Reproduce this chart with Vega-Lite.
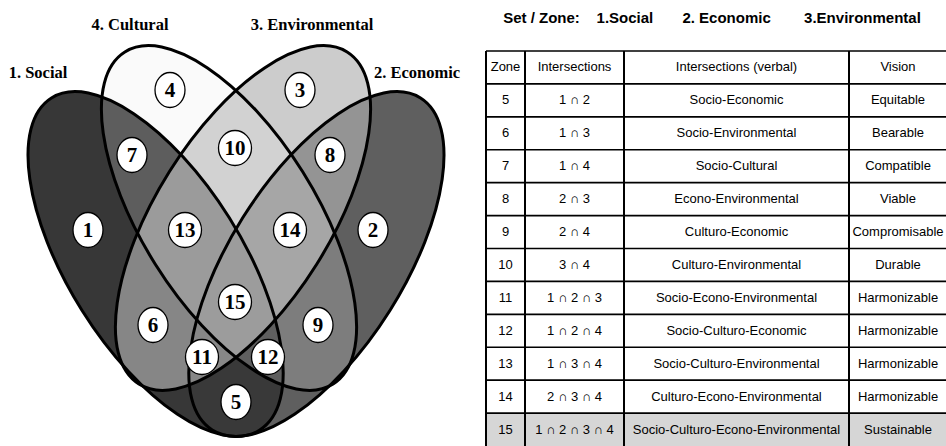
{
  "$schema": "https://vega.github.io/schema/vega-lite/v6.json",
  "padding": {"left": 0, "right": 0, "top": 11, "bottom": 0},
  "background": "white",
  "config": {"view": {"stroke": null}, "concat": {"spacing": 15}},
  "datasets": {
    "sets": [
      {"set": "Social", "cx": 155.6, "cy": 264},
      {"set": "Economic", "cx": 316.4, "cy": 264},
      {"set": "Environmental", "cx": 243, "cy": 218},
      {"set": "Cultural", "cx": 229, "cy": 218}
    ],
    "zones": [
      {"zone": "1", "x": 88, "y": 230},
      {"zone": "2", "x": 373, "y": 230},
      {"zone": "3", "x": 300, "y": 90},
      {"zone": "4", "x": 170, "y": 90},
      {"zone": "5", "x": 236, "y": 402},
      {"zone": "6", "x": 153, "y": 325},
      {"zone": "7", "x": 132, "y": 155},
      {"zone": "8", "x": 330, "y": 155},
      {"zone": "9", "x": 318, "y": 325},
      {"zone": "10", "x": 235, "y": 148},
      {"zone": "11", "x": 202, "y": 357},
      {"zone": "12", "x": 268, "y": 357},
      {"zone": "13", "x": 185, "y": 230},
      {"zone": "14", "x": 290, "y": 230},
      {"zone": "15", "x": 235, "y": 302}
    ],
    "labels": [
      {"label": "1. Social", "x": 38, "y": 73},
      {"label": "4. Cultural", "x": 130, "y": 25},
      {"label": "3. Environmental", "x": 312, "y": 25},
      {"label": "2. Economic", "x": 417, "y": 73}
    ],
    "table": [
      {"zone": "Zone", "inter": "Intersections", "verbal": "Intersections (verbal)", "vision": "Vision"},
      {"zone": "5", "inter": "1 ∩ 2", "verbal": "Socio-Economic", "vision": "Equitable"},
      {"zone": "6", "inter": "1 ∩ 3", "verbal": "Socio-Environmental", "vision": "Bearable"},
      {"zone": "7", "inter": "1 ∩ 4", "verbal": "Socio-Cultural", "vision": "Compatible"},
      {"zone": "8", "inter": "2 ∩ 3", "verbal": "Econo-Environmental", "vision": "Viable"},
      {"zone": "9", "inter": "2 ∩ 4", "verbal": "Culturo-Economic", "vision": "Compromisable"},
      {"zone": "10", "inter": "3 ∩ 4", "verbal": "Culturo-Environmental", "vision": "Durable"},
      {"zone": "11", "inter": "1 ∩ 2 ∩ 3", "verbal": "Socio-Econo-Environmental", "vision": "Harmonizable"},
      {"zone": "12", "inter": "1 ∩ 2 ∩ 4", "verbal": "Socio-Culturo-Economic", "vision": "Harmonizable"},
      {"zone": "13", "inter": "1 ∩ 3 ∩ 4", "verbal": "Socio-Culturo-Environmental", "vision": "Harmonizable"},
      {"zone": "14", "inter": "2 ∩ 3 ∩ 4", "verbal": "Culturo-Econo-Environmental", "vision": "Harmonizable"},
      {"zone": "15", "inter": "1 ∩ 2 ∩ 3 ∩ 4", "verbal": "Socio-Culturo-Econo-Environmental", "vision": "Sustainable"}
    ]
  },
  "hconcat": [
    {
      "width": 470,
      "height": 395,
      "data": {"name": "sets"},
      "encoding": {
        "x": {"field": "cx", "type": "quantitative", "scale": {"domain": [0, 470], "nice": false, "zero": false}, "axis": null},
        "y": {"field": "cy", "type": "quantitative", "scale": {"domain": [51, 446], "reverse": true, "nice": false, "zero": false}, "axis": null},
        "shape": {"value": "M-196,0C-196,-48.05,-108.25,-87,0,-87C108.25,-87,196,-48.05,196,0C196,48.05,108.25,87,0,87C-108.25,87,-196,48.05,-196,0Z"},
        "angle": {"condition": {"test": "datum.set === 'Social' || datum.set === 'Cultural'", "value": 57.9}, "value": -57.9}
      },
      "layer": [
        {
          "transform": [{"filter": "datum.set === 'Social'"}],
          "mark": {"type": "point", "filled": true, "size": 4, "strokeWidth": 0, "fill": "#373737", "fillOpacity": 1, "opacity": 1}
        },
        {
          "transform": [{"filter": "datum.set === 'Economic'"}],
          "mark": {"type": "point", "filled": true, "size": 4, "strokeWidth": 0, "fill": "#3a3a3a", "fillOpacity": 0.81, "opacity": 1}
        },
        {
          "transform": [{"filter": "datum.set === 'Environmental'"}],
          "mark": {"type": "point", "filled": true, "size": 4, "strokeWidth": 0, "fill": "#b0b0b0", "fillOpacity": 0.65, "opacity": 1}
        },
        {
          "transform": [{"filter": "datum.set === 'Cultural'"}],
          "mark": {"type": "point", "filled": true, "size": 4, "strokeWidth": 0, "fill": "#e6e6e6", "fillOpacity": 0.22, "opacity": 1}
        },
        {
          "mark": {"type": "point", "filled": false, "size": 4, "color": "black", "strokeWidth": 3, "opacity": 1}
        },
        {
          "data": {"name": "zones"},
          "mark": {"type": "point", "filled": true, "size": 4, "fill": "white", "stroke": "black", "strokeWidth": 1.3, "opacity": 1},
          "encoding": {
            "x": {"field": "x", "type": "quantitative"},
            "y": {"field": "y", "type": "quantitative"},
            "angle": {"value": 0},
            "shape": {
              "condition": {"test": "length(datum.zone) > 1", "value": "M-16.5,0C-16.5,-9.67,-9.11,-17.5,0,-17.5C9.11,-17.5,16.5,-9.67,16.5,0C16.5,9.67,9.11,17.5,0,17.5C-9.11,17.5,-16.5,9.67,-16.5,0Z"},
              "value": "M-15,0C-15,-9.67,-8.28,-17.5,0,-17.5C8.28,-17.5,15,-9.67,15,0C15,9.67,8.28,17.5,0,17.5C-8.28,17.5,-15,9.67,-15,0Z"
            }
          }
        },
        {
          "data": {"name": "zones"},
          "mark": {"type": "text", "font": "Liberation Serif", "fontWeight": "bold", "fontSize": 21, "baseline": "middle", "align": "center", "dy": 1, "color": "black"},
          "encoding": {
            "x": {"field": "x", "type": "quantitative"},
            "y": {"field": "y", "type": "quantitative"},
            "text": {"field": "zone"},
            "angle": {"value": 0},
            "shape": null
          }
        },
        {
          "data": {"name": "labels"},
          "mark": {"type": "text", "font": "Liberation Serif", "fontWeight": "bold", "fontSize": 16.5, "baseline": "middle", "align": "center", "color": "black"},
          "encoding": {
            "x": {"field": "x", "type": "quantitative"},
            "y": {"field": "y", "type": "quantitative"},
            "text": {"field": "label"},
            "angle": {"value": 0},
            "shape": null
          }
        }
      ]
    },
    {
      "width": 461,
      "height": 395,
      "data": {"name": "table"},
      "title": {
        "text": "Set / Zone:\u00a0\u00a0\u00a0\u00a01.Social\u00a0\u00a0\u00a0\u00a0\u00a0\u00a0\u00a02. Economic\u00a0\u00a0\u00a0\u00a0\u00a0\u00a0\u00a0\u00a03.Environmental",
        "anchor": "start",
        "dx": 18,
        "font": "Liberation Sans",
        "fontSize": 15,
        "fontWeight": "bold",
        "color": "black",
        "offset": 24
      },
      "layer": [
        {
          "mark": {"type": "rect"},
          "encoding": {
            "y": {"field": "zone", "type": "nominal", "sort": null, "axis": null, "scale": {"paddingInner": 0, "paddingOuter": 0}},
            "x": {"datum": 0, "type": "quantitative", "scale": {"domain": [0, 461], "nice": false, "zero": false}, "axis": null},
            "x2": {"datum": 461},
            "color": {"condition": {"test": "datum.zone === '15'", "value": "#d6d6d6"}, "value": "white"}
          }
        },
        {
          "mark": {"type": "rule", "color": "black", "strokeWidth": 1.6},
          "encoding": {"y": {"field": "zone", "type": "nominal", "sort": null, "bandPosition": 0}}
        },
        {"mark": {"type": "rule", "color": "black", "strokeWidth": 1.6}, "encoding": {"x": {"datum": 0, "type": "quantitative"}}},
        {"mark": {"type": "rule", "color": "black", "strokeWidth": 1.6}, "encoding": {"x": {"datum": 39, "type": "quantitative"}}},
        {"mark": {"type": "rule", "color": "black", "strokeWidth": 1.6}, "encoding": {"x": {"datum": 138, "type": "quantitative"}}},
        {"mark": {"type": "rule", "color": "black", "strokeWidth": 1.6}, "encoding": {"x": {"datum": 363, "type": "quantitative"}}},
        {
          "mark": {"type": "text", "font": "Liberation Sans", "fontSize": 13, "baseline": "middle", "align": "center", "color": "black"},
          "encoding": {
            "y": {"field": "zone", "type": "nominal", "sort": null},
            "x": {"datum": 19.5, "type": "quantitative"},
            "text": {"field": "zone"},
            "fontWeight": {"condition": {"test": "datum.zone === 'Zone'", "value": "normal"}, "value": "bold"}
          }
        },
        {
          "mark": {"type": "text", "font": "Liberation Sans", "fontSize": 13, "baseline": "middle", "align": "center", "color": "black"},
          "encoding": {
            "y": {"field": "zone", "type": "nominal", "sort": null},
            "x": {"datum": 88.5, "type": "quantitative"},
            "text": {"field": "inter"},
            "fontWeight": {"condition": {"test": "datum.zone === 'Zone'", "value": "normal"}, "value": "bold"}
          }
        },
        {
          "mark": {"type": "text", "font": "Liberation Sans", "fontSize": 13, "baseline": "middle", "align": "center", "color": "black"},
          "encoding": {
            "y": {"field": "zone", "type": "nominal", "sort": null},
            "x": {"datum": 250.5, "type": "quantitative"},
            "text": {"field": "verbal"}
          }
        },
        {
          "mark": {"type": "text", "font": "Liberation Sans", "fontSize": 13, "baseline": "middle", "align": "center", "color": "black"},
          "encoding": {
            "y": {"field": "zone", "type": "nominal", "sort": null},
            "x": {"datum": 412, "type": "quantitative"},
            "text": {"field": "vision"}
          }
        }
      ]
    }
  ]
}
